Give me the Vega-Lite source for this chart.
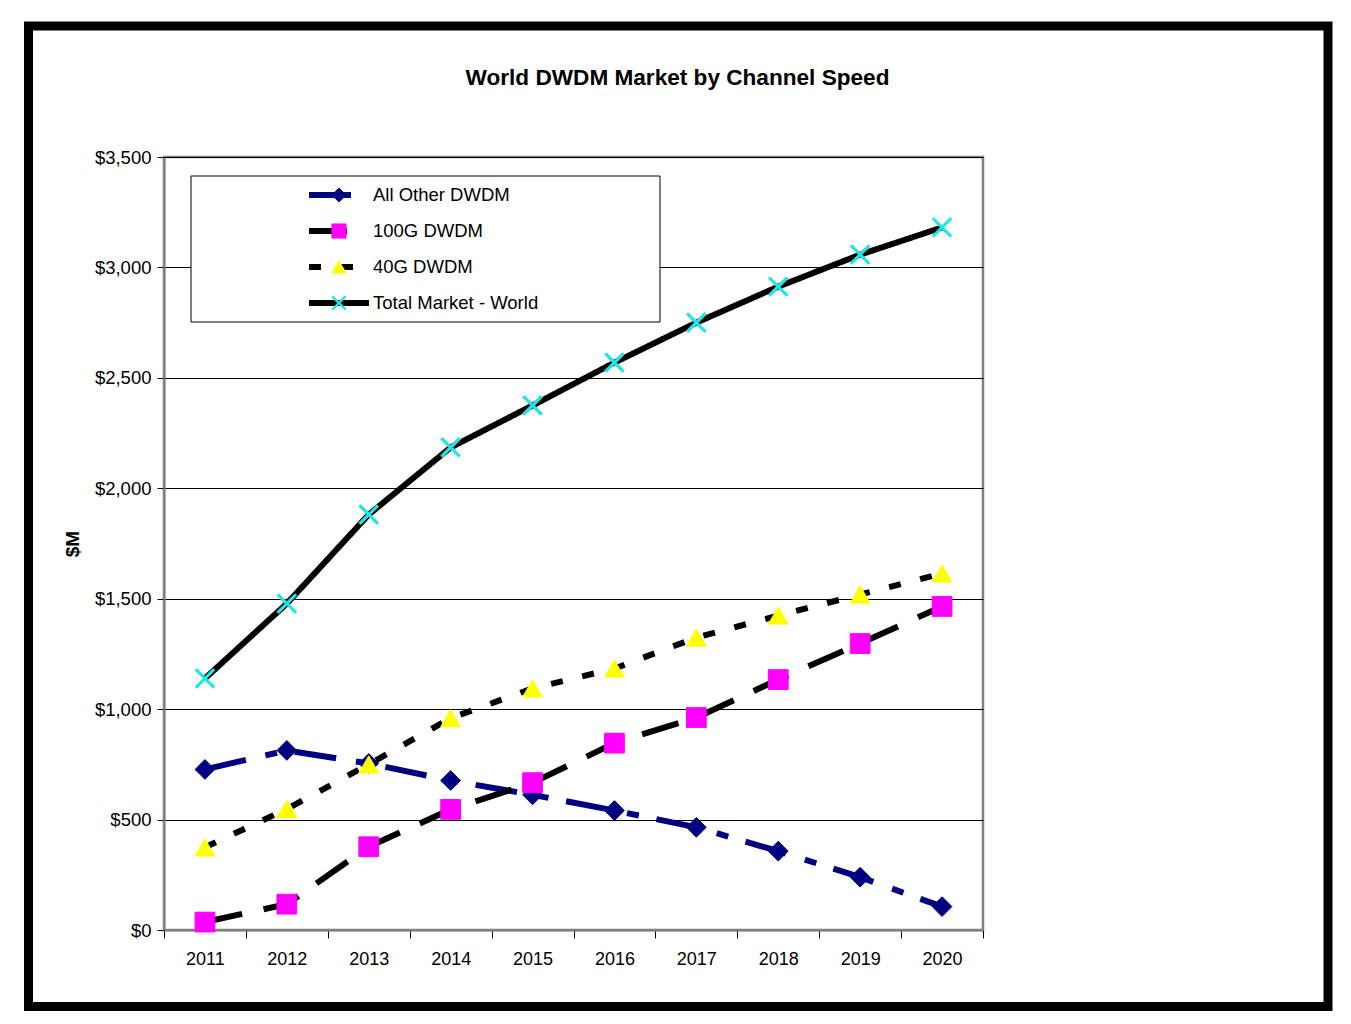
{
  "$schema": "https://vega.github.io/schema/vega-lite/v6.json",
  "width": 819,
  "height": 773,
  "autosize": {"type": "none"},
  "padding": {"left": 164, "top": 157, "right": 368, "bottom": 94},
  "background": "white",
  "config": {
    "font": "Liberation Sans",
    "view": {"stroke": "#808080", "strokeWidth": 2.5}
  },
  "title": {
    "text": "World DWDM Market by Channel Speed",
    "fontSize": 22.6,
    "fontWeight": "bold",
    "color": "black",
    "anchor": "middle",
    "dx": 104,
    "offset": -68
  },
  "data": {
    "values": [
      {"year": 2011, "series": "All Other DWDM", "code": "other", "value": 727},
      {"year": 2012, "series": "All Other DWDM", "code": "other", "value": 813},
      {"year": 2013, "series": "All Other DWDM", "code": "other", "value": 754},
      {"year": 2014, "series": "All Other DWDM", "code": "other", "value": 677},
      {"year": 2015, "series": "All Other DWDM", "code": "other", "value": 612},
      {"year": 2016, "series": "All Other DWDM", "code": "other", "value": 541},
      {"year": 2017, "series": "All Other DWDM", "code": "other", "value": 465},
      {"year": 2018, "series": "All Other DWDM", "code": "other", "value": 357},
      {"year": 2019, "series": "All Other DWDM", "code": "other", "value": 239},
      {"year": 2020, "series": "All Other DWDM", "code": "other", "value": 106},
      {"year": 2011, "series": "100G DWDM", "code": "g100", "value": 36},
      {"year": 2012, "series": "100G DWDM", "code": "g100", "value": 117},
      {"year": 2013, "series": "100G DWDM", "code": "g100", "value": 377},
      {"year": 2014, "series": "100G DWDM", "code": "g100", "value": 546},
      {"year": 2015, "series": "100G DWDM", "code": "g100", "value": 667},
      {"year": 2016, "series": "100G DWDM", "code": "g100", "value": 846},
      {"year": 2017, "series": "100G DWDM", "code": "g100", "value": 962},
      {"year": 2018, "series": "100G DWDM", "code": "g100", "value": 1134},
      {"year": 2019, "series": "100G DWDM", "code": "g100", "value": 1297},
      {"year": 2020, "series": "100G DWDM", "code": "g100", "value": 1465},
      {"year": 2011, "series": "40G DWDM", "code": "g40", "value": 374},
      {"year": 2012, "series": "40G DWDM", "code": "g40", "value": 548},
      {"year": 2013, "series": "40G DWDM", "code": "g40", "value": 750},
      {"year": 2014, "series": "40G DWDM", "code": "g40", "value": 959},
      {"year": 2015, "series": "40G DWDM", "code": "g40", "value": 1094},
      {"year": 2016, "series": "40G DWDM", "code": "g40", "value": 1184},
      {"year": 2017, "series": "40G DWDM", "code": "g40", "value": 1324},
      {"year": 2018, "series": "40G DWDM", "code": "g40", "value": 1424},
      {"year": 2019, "series": "40G DWDM", "code": "g40", "value": 1519},
      {"year": 2020, "series": "40G DWDM", "code": "g40", "value": 1614},
      {"year": 2011, "series": "Total Market - World", "code": "total", "value": 1139},
      {"year": 2012, "series": "Total Market - World", "code": "total", "value": 1478},
      {"year": 2013, "series": "Total Market - World", "code": "total", "value": 1881},
      {"year": 2014, "series": "Total Market - World", "code": "total", "value": 2185},
      {"year": 2015, "series": "Total Market - World", "code": "total", "value": 2375},
      {"year": 2016, "series": "Total Market - World", "code": "total", "value": 2569},
      {"year": 2017, "series": "Total Market - World", "code": "total", "value": 2750},
      {"year": 2018, "series": "Total Market - World", "code": "total", "value": 2913},
      {"year": 2019, "series": "Total Market - World", "code": "total", "value": 3058},
      {"year": 2020, "series": "Total Market - World", "code": "total", "value": 3181}
    ]
  },
  "layer": [
    {
      "data": {"values": [{}]},
      "mark": {"type": "rect", "fill": "white", "stroke": "black", "strokeWidth": 1, "clip": false},
      "encoding": {
        "x": {"value": 27},
        "x2": {"value": 496},
        "y": {"value": 19},
        "y2": {"value": 165}
      }
    },
    {
      "mark": {"type": "line", "strokeWidth": 6},
      "encoding": {
        "x": {
          "field": "year",
          "type": "ordinal",
          "scale": {"type": "band", "paddingInner": 0, "paddingOuter": 0},
          "axis": {
            "title": null,
            "labelAngle": 0,
            "tickBand": "extent",
            "tickSize": 8,
            "tickColor": "black",
            "tickWidth": 1,
            "domainColor": "#808080",
            "domainWidth": 2,
            "labelFontSize": 18,
            "labelColor": "black",
            "labelPadding": 12,
            "grid": false
          }
        },
        "y": {
          "field": "value",
          "type": "quantitative",
          "scale": {"domain": [0, 3500], "nice": false},
          "axis": {
            "values": [0, 500, 1000, 1500, 2000, 2500, 3000, 3500],
            "format": "$,.0f",
            "grid": true,
            "gridColor": "black",
            "gridWidth": 1,
            "gridOpacity": 1,
            "domainColor": "#808080",
            "domainWidth": 2,
            "tickColor": "black",
            "tickSize": 7,
            "tickWidth": 1,
            "labelFontSize": 18.5,
            "labelColor": "black",
            "labelPadding": 6,
            "title": "$M",
            "titleFontSize": 19,
            "titleFontWeight": "bold",
            "titleColor": "black",
            "titlePadding": 12
          }
        },
        "color": {
          "field": "series",
          "type": "nominal",
          "scale": {
            "domain": ["All Other DWDM", "100G DWDM", "40G DWDM", "Total Market - World"],
            "range": ["#000080", "#000000", "#000000", "#000000"]
          },
          "legend": {
            "orient": "none", "legendX": 142, "legendY": 28, "title": null,
            "symbolType": "stroke", "symbolSize": 3600, "symbolStrokeWidth": 6,
            "clipHeight": 20, "rowPadding": 16, "labelFontSize": 18.5,
            "labelColor": "black", "labelOffset": 1, "padding": 0, "labelLimit": 300,
            "direction": "vertical"
          }
        },
        "strokeDash": {
          "field": "series",
          "type": "nominal",
          "scale": {
            "domain": ["All Other DWDM", "100G DWDM", "40G DWDM", "Total Market - World"],
            "range": [[42, 20, 12, 18], [38, 22], [12, 20], [1, 0]]
          },
          "legend": {
            "orient": "none", "legendX": 142, "legendY": 28, "title": null,
            "symbolType": "stroke", "symbolSize": 3600, "symbolStrokeWidth": 6,
            "clipHeight": 20, "rowPadding": 16, "labelFontSize": 18.5,
            "labelColor": "black", "labelOffset": 1, "padding": 0, "labelLimit": 300,
            "direction": "vertical"
          }
        }
      }
    },
    {
      "mark": {"type": "point", "filled": true, "size": 390, "strokeWidth": 1, "opacity": 1},
      "encoding": {
        "x": {"field": "year", "type": "ordinal"},
        "y": {"field": "value", "type": "quantitative"},
        "shape": {
          "field": "code",
          "type": "nominal",
          "scale": {
            "domain": ["other", "g100", "g40", "total"],
            "range": ["diamond", "square", "triangle-up", "M-1,-0.82L-0.82,-1L0,-0.18L0.82,-1L1,-0.82L0.18,0L1,0.82L0.82,1L0,0.18L-0.82,1L-1,0.82L-0.18,0Z"]
          },
          "legend": {
            "orient": "none", "legendX": 165.75, "legendY": 28, "title": null,
            "symbolSize": 200, "symbolStrokeWidth": 1, "symbolOpacity": 1,
            "clipHeight": 20, "rowPadding": 16, "labelFontSize": 18.5,
            "labelExpr": "''", "padding": 0, "direction": "vertical"
          }
        },
        "fill": {
          "field": "code",
          "type": "nominal",
          "scale": {
            "domain": ["other", "g100", "g40", "total"],
            "range": ["#000080", "#FF00FF", "#FFFF00", "#22E6E6"]
          },
          "legend": {
            "orient": "none", "legendX": 165.75, "legendY": 28, "title": null,
            "symbolSize": 200, "symbolStrokeWidth": 1, "symbolOpacity": 1,
            "clipHeight": 20, "rowPadding": 16, "labelFontSize": 18.5,
            "labelExpr": "''", "padding": 0, "direction": "vertical"
          }
        },
        "stroke": {
          "field": "code",
          "type": "nominal",
          "scale": {
            "domain": ["other", "g100", "g40", "total"],
            "range": ["#000080", "#FF00FF", "#FFFF00", "#22E6E6"]
          },
          "legend": {
            "orient": "none", "legendX": 165.75, "legendY": 28, "title": null,
            "symbolSize": 200, "symbolStrokeWidth": 1, "symbolOpacity": 1,
            "clipHeight": 20, "rowPadding": 16, "labelFontSize": 18.5,
            "labelExpr": "''", "padding": 0, "direction": "vertical"
          }
        }
      }
    },
    {
      "data": {"values": [{}]},
      "mark": {"type": "rect", "fill": null, "fillOpacity": 0, "stroke": "black", "strokeWidth": 9, "clip": false},
      "encoding": {
        "x": {"value": -135.5},
        "x2": {"value": 1164},
        "y": {"value": -131},
        "y2": {"value": 849.5}
      }
    }
  ]
}
